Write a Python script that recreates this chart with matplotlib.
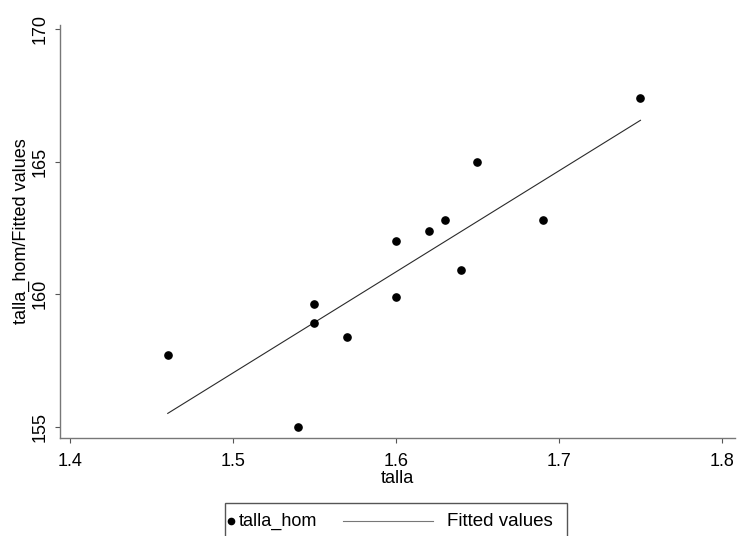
import numpy as np
import matplotlib
matplotlib.use("Agg")
import matplotlib.pyplot as plt
from matplotlib.lines import Line2D
from matplotlib.patches import Rectangle

# ---- data ----
talla = [1.46, 1.54, 1.55, 1.55, 1.57, 1.60, 1.60, 1.62, 1.63, 1.64, 1.65, 1.69, 1.75]
talla_hom = [157.7, 155.0, 159.65, 158.9, 158.4, 162.0, 159.9, 162.4, 162.8, 160.9, 165.0, 162.8, 167.4]
x_ticks = [1.4, 1.5, 1.6, 1.7, 1.8]
x_ticklabels = ["1.4", "1.5", "1.6", "1.7", "1.8"]
y_ticks = [155, 160, 165, 170]
y_ticklabels = ["155", "160", "165", "170"]
series_labels = ["talla_hom", "Fitted values"]
x_title = "talla"
y_title = "talla_hom/Fitted values"

plt.rcParams['font.family'] = ['Liberation Sans', 'DejaVu Sans']

W, H = 737, 536
fig = plt.figure(figsize=(W / 100, H / 100), dpi=100)
ax = fig.add_axes([60 / W, 1 - 438 / H, (735 - 60) / W, (438 - 25) / H])

x = np.array(talla)
y = np.array(talla_hom)

# fitted values (linear regression)
slope, intercept = np.polyfit(x, y, 1)
xs = np.sort(x)
fit = slope * xs + intercept

ax.plot(xs, fit, color="#2a2a2a", lw=0.8, zorder=2)
ax.plot(x, y, linestyle="none", marker="o", ms=5.2, mfc="black", mec="black", zorder=3)

ax.set_xlim(1.3939, 1.808)
ax.set_ylim(154.58, 170.15)
ax.set_xticks(x_ticks)
ax.set_xticklabels(x_ticklabels)
ax.set_yticks(y_ticks)
ax.set_yticklabels(y_ticklabels)

for s in ["top", "right"]:
    ax.spines[s].set_visible(False)
for s in ["left", "bottom"]:
    ax.spines[s].set_color("#777777")
    ax.spines[s].set_linewidth(1.0)

ax.tick_params(axis="both", direction="out", length=3.5, width=0.8, color="#555555",
               labelsize=13, pad=5)
ax.tick_params(axis="x", pad=7)
ax.tick_params(axis="y", labelrotation=90)
for lab in ax.get_yticklabels():
    lab.set_va("center")

ax.set_xlabel(x_title, fontsize=13, labelpad=0)
ax.set_ylabel(y_title, fontsize=13, labelpad=1)

# legend (boxed, below plot, partly cut by figure edge)
lx0, lx1 = 225 / W, 567 / W
ly_top = 1 - 502.5 / H
fig.add_artist(Rectangle((lx0, -0.02), lx1 - lx0, ly_top + 0.02, transform=fig.transFigure,
                         fill=False, edgecolor="#555555", lw=1.0))
ty = 1 - 521 / H
fig.add_artist(Line2D([231 / W], [ty], transform=fig.transFigure, marker="o", ms=4.5,
                      mfc="black", mec="black", linestyle="none"))
fig.text(239 / W, ty, series_labels[0], fontsize=13, va="center", ha="left")
fig.add_artist(Line2D([343 / W, 433 / W], [ty, ty], transform=fig.transFigure,
                      color="#777777", lw=0.8))
fig.text(447 / W, ty, series_labels[1], fontsize=13.5, va="center", ha="left")

fig.savefig("out.png", dpi=100, facecolor="white")
